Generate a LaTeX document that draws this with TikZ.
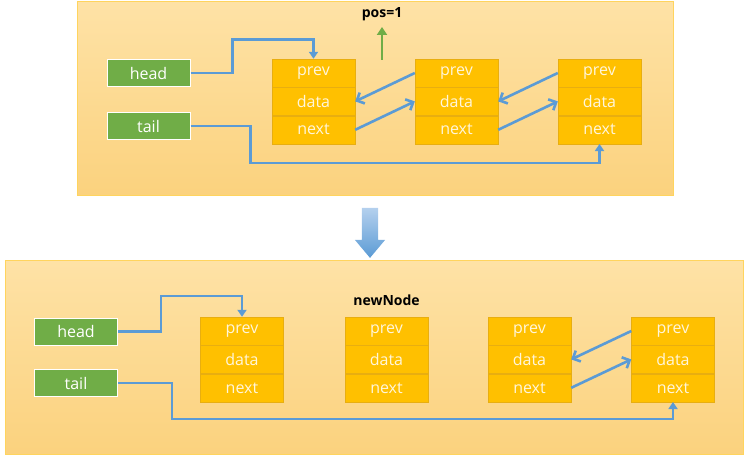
\documentclass[tikz,border=0pt]{standalone}
\usepackage{fontspec}
\setmainfont{Open Sans}
\usetikzlibrary{positioning,arrows.meta,shapes.arrows,calc}
\definecolor{paneltop}{HTML}{FEE2A6}
\definecolor{panelbot}{HTML}{FBD27E}
\definecolor{panelline}{HTML}{FFD45E}
\definecolor{cellfill}{HTML}{FFC000}
\definecolor{cellline}{HTML}{E8AE10}
\definecolor{celltext}{HTML}{FFF6DC}
\definecolor{ptrgreen}{HTML}{70AD47}
\definecolor{linkblue}{HTML}{5B9BD5}
\definecolor{arrowtop}{HTML}{B4D0EE}
\tikzset{
  panel/.style={draw=panelline, line width=1pt, top color=paneltop, bottom color=panelbot},
  cell/.style={draw=cellline, fill=cellfill, text=celltext, minimum width=83pt,
    minimum height=28pt, inner sep=0pt, font=\fontsize{16}{18}\selectfont},
  ptr/.style={draw=white, line width=1pt, fill=ptrgreen, text=white, minimum width=83pt,
    minimum height=27pt, inner sep=0pt, font=\fontsize{16}{18}\selectfont},
  title/.style={font=\fontsize{14}{16}\selectfont\bfseries},
  link/.style={draw=linkblue, line width=2.6pt, -{Triangle[length=7pt,width=9pt]}},
  diag/.style={draw=linkblue, line width=2.6pt, -{Straight Barb[length=6pt,width=12pt,line width=2.6pt]}},
  mark up/.style={draw=ptrgreen, line width=2.8pt, -{Triangle[length=8pt,width=10pt]}}
}
\begin{document}
\begin{tikzpicture}[x=1pt, y=-1pt]
    \useasboundingbox (0,0) rectangle (749,460);

    \draw[panel] (77,2) rectangle (673,195);
    \draw[panel] (5,260) rectangle (743,454);

    % list nodes: 1-3 before, 4-7 after
    \foreach \i/\x/\y in {1/313.5/73, 2/456.5/73, 3/599.5/73,
                          4/242/331, 5/386.5/331, 6/529.5/331, 7/673/331}{
      \node[cell] (p\i) at (\x,\y) {prev};
      \node[cell, below=0pt of p\i] (d\i) {data};
      \node[cell, below=0pt of d\i] (n\i) {next};
    }

    \node[ptr] (h1) at (148.5,73) {head};
    \node[ptr] (t1) at (148.5,126) {tail};
    \node[ptr] (h2) at (76,331.5) {head};
    \node[ptr] (t2) at (76,383) {tail};

    \node[title] (pos) at (382,14) {pos=1};
    \node[title] (new) at (386.5,300) {newNode};
    \coordinate (pbase) at (382,60);
    \coordinate (ptip) at (382,27);
    \draw[mark up] (pbase) -- (ptip);

    \draw[link] (h1.east) -- ++(42,0) |- ($(p1.north)+(0,-19)$) -- (p1.north);
    \draw[link] (t1.east) -- ++(60,0) |- ($(n3.south)+(0,19)$) -- (n3.south);
    \draw[diag] (p2.west) -- (d1.east);
    \draw[diag] (n1.east) -- (d2.west);
    \draw[diag] (p3.west) -- (d2.east);
    \draw[diag] (n2.east) -- (d3.west);

    \draw[link] (h2.east) -- ++(43,0) |- ($(p4.north)+(0,-21)$) -- (p4.north);
    \draw[link] (t2.east) -- ++(54,0) |- ($(n7.south)+(0,17)$) -- (n7.south);
    \draw[diag] (p7.west) -- (d6.east);
    \draw[diag] (n6.east) -- (d7.west);

    \node[single arrow, shape border rotate=270, draw=none, top color=arrowtop,
      bottom color=linkblue, minimum height=50pt, inner sep=8pt,
      single arrow head extend=7pt, single arrow tip angle=80] (down) at (370,228) {};
\end{tikzpicture}
\end{document}
